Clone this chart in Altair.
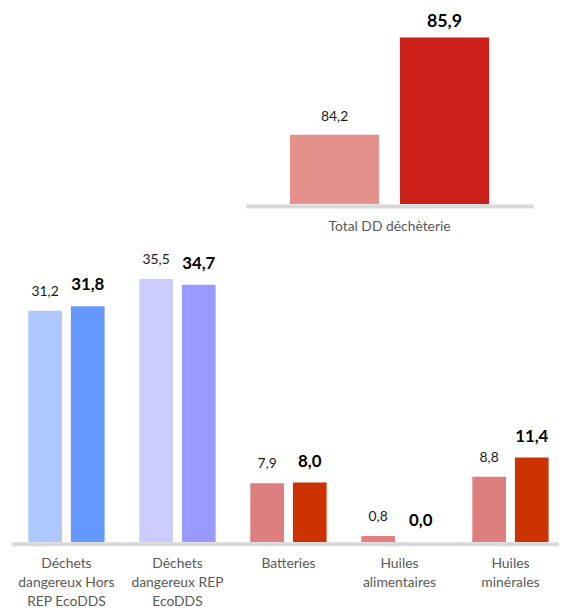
import altair as alt
import pandas as pd

# ---- data ----
categories = [
    "Déchets\ndangereux Hors\nREP EcoDDS",
    "Déchets\ndangereux REP\nEcoDDS",
    "Batteries",
    "Huiles\nalimentaires",
    "Huiles\nminérales",
]
series = ["Année N-1", "Année N"]
values_prev = [31.2, 35.5, 7.9, 0.8, 8.8]
values_curr = [31.8, 34.7, 8.0, 0.0, 11.4]

total_category = ["Total DD déchèterie"]
total_prev = [84.2]
total_curr = [85.9]

# ---- palette ----
colors_prev = ["#ADC9FF", "#CCCCFF", "#DE7F7F", "#E08080", "#DE7F7F"]
colors_curr = ["#6699FF", "#9999FF", "#CC3300", "#CC3300", "#CC3300"]
total_colors_prev = ["#E3918A"]
total_colors_curr = ["#CA2019"]

FONT = "Lato"
AXIS_GREY = "#D9D9D9"
LABEL_GREY = "#595959"


def build(cats, prev, curr, cprev, ccurr):
    rows, keys, cols = [], [], []
    for c, p, q, a, b in zip(cats, prev, curr, cprev, ccurr):
        for s, v, col in ((series[0], p, a), (series[1], q, b)):
            k = c + "|" + s
            rows.append({"cat": c, "series": s, "value": v, "key": k})
            keys.append(k)
            cols.append(col)
    return pd.DataFrame(rows), keys, cols


df_b, keys_b, cols_b = build(categories, values_prev, values_curr, colors_prev, colors_curr)
df_t, keys_t, cols_t = build(total_category, total_prev, total_curr, total_colors_prev, total_colors_curr)

label_expr = "replace(format(datum.value, '.1f'), '.', ',')"


def panel(df, cats, keys, cols, xrange, xpad_in, xpad_out, off_pad, ydomain, height,
          lab_light, lab_bold, dy_light, dy_bold, label_pad, line_h):
    x = alt.X(
        "cat:N",
        sort=cats,
        scale=alt.Scale(range=xrange, paddingInner=xpad_in, paddingOuter=xpad_out),
        axis=alt.Axis(
            title=None,
            labelAngle=0,
            labelExpr="split(datum.value, '\\n')",
            labelFont=FONT,
            labelFontSize=14,
            labelColor=LABEL_GREY,
            labelLineHeight=line_h,
            labelPadding=label_pad,
            labelBaseline="top",
            ticks=False,
            tickSize=0,
            domainColor=AXIS_GREY,
            domainWidth=4,
            offset=2,
            grid=False,
        ),
    )
    xo = alt.XOffset("series:N", sort=series, scale=alt.Scale(paddingInner=off_pad, paddingOuter=0))
    y = alt.Y("value:Q", scale=alt.Scale(domain=ydomain, zero=False, nice=False), axis=None)

    base = alt.Chart(df).encode(x=x, xOffset=xo)
    bars = base.mark_bar().encode(
        y=y,
        y2=alt.datum(ydomain[0]),
        color=alt.Color("key:N", scale=alt.Scale(domain=keys, range=cols), legend=None),
    )
    txt_light = base.transform_filter(alt.datum.series == series[0]).transform_calculate(
        lab=label_expr
    ).mark_text(
        font=FONT, fontSize=lab_light, color="#1A1A1A", baseline="middle", dy=dy_light
    ).encode(y=y, text="lab:N")
    txt_bold = base.transform_filter(alt.datum.series == series[1]).transform_calculate(
        lab=label_expr
    ).mark_text(
        font=FONT, fontSize=lab_bold, fontWeight="bold", color="#000000", baseline="middle", dy=dy_bold
    ).encode(y=y, text="lab:N")
    return alt.layer(bars, txt_light, txt_bold).properties(width=559, height=height)


top = panel(
    df_t, total_category, keys_t, cols_t,
    xrange=[240, 530], xpad_in=0, xpad_out=0.2214, off_pad=21 / 111,
    ydomain=[82.99, 86.42], height=198,
    lab_light=14, lab_bold=18, dy_light=-18, dy_bold=-16, label_pad=14, line_h=20,
)

bottom = panel(
    df_b, categories, keys_b, cols_b,
    xrange=[3, 563], xpad_in=0.3125, xpad_out=0.156, off_pad=9 / 43,
    ydomain=[0, 40], height=299,
    lab_light=14, lab_bold=17, dy_light=-19, dy_bold=-21, label_pad=13, line_h=19,
)

chart = alt.vconcat(top, bottom, spacing=12).resolve_scale(
    x="independent", y="independent", xOffset="independent", color="independent"
).properties(
    padding={"top": -3, "left": 0, "right": -4, "bottom": -3}
).configure_view(stroke=None)

chart.save("out.html", embed_options={"renderer": "svg", "actions": False})
